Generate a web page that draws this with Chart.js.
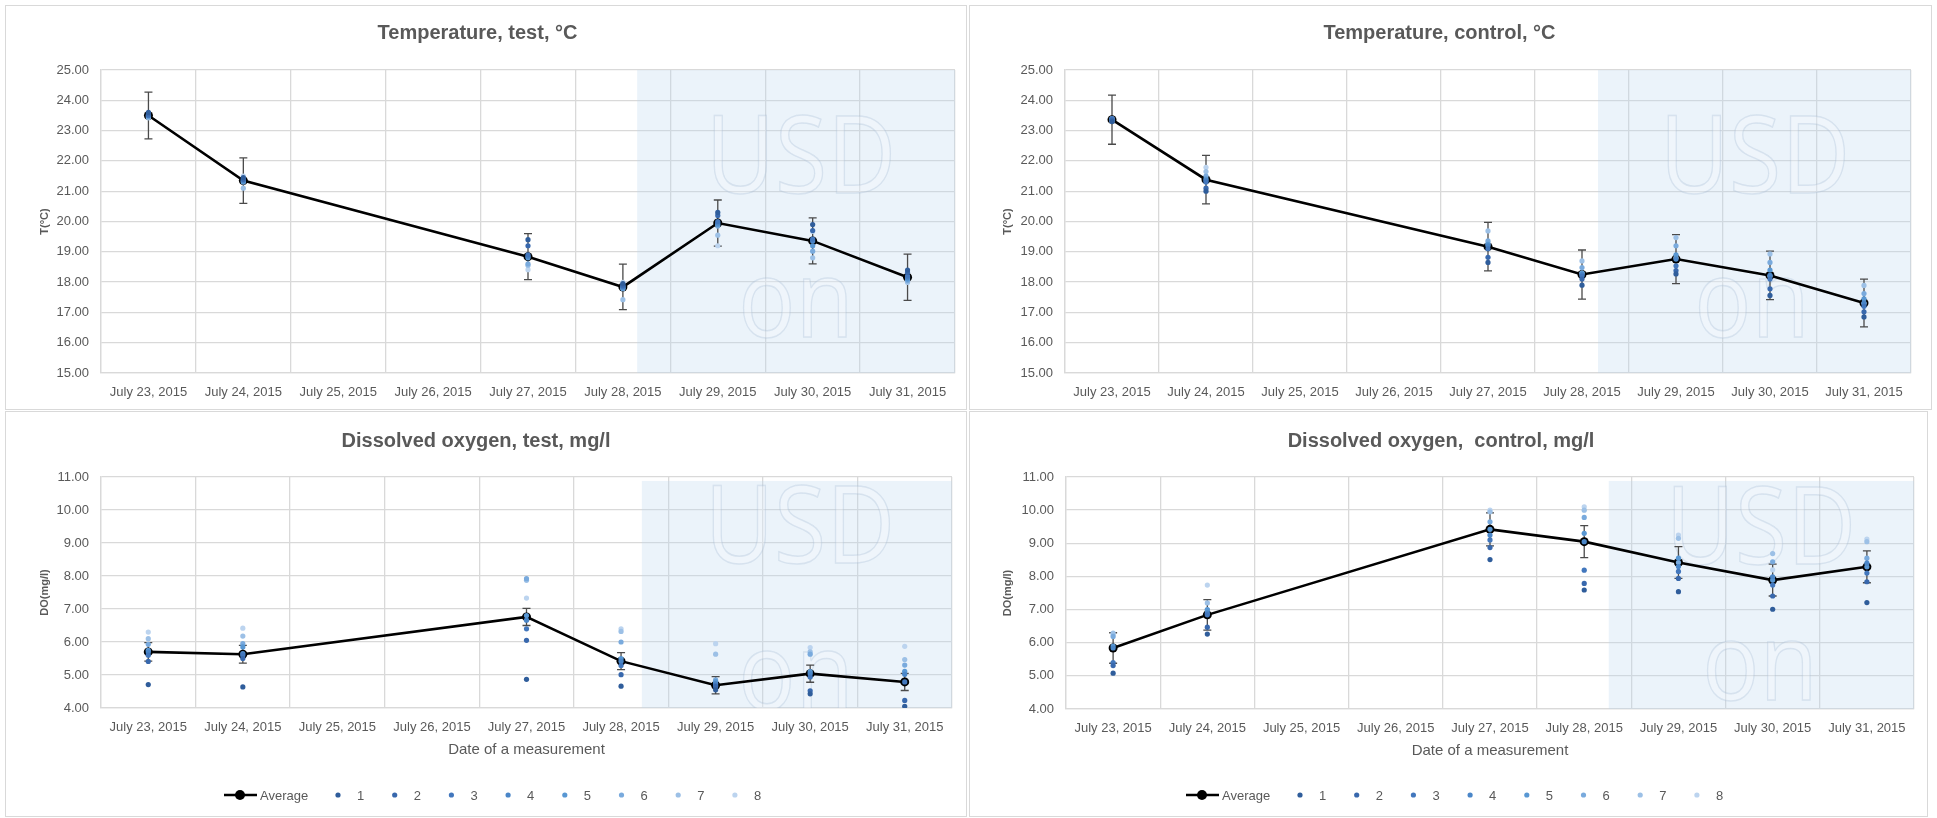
<!DOCTYPE html>
<html>
<head>
<meta charset="utf-8">
<script src="https://cdn.jsdelivr.net/npm/chart.js@4.4.1/dist/chart.umd.min.js"></script>
<style>
    body { margin: 0; background: #fff; }
    #page { position: relative; width: 1937px; height: 818px; overflow: hidden; background: #fff; }
    canvas { position: absolute; }
</style>
</head>
<body>
<div id="page">
    <canvas id="tempTest" width="968" height="410" style="left:0px;top:0px;width:968px;height:410px"></canvas>
    <canvas id="tempControl" width="969" height="410" style="left:968px;top:0px;width:969px;height:410px"></canvas>
    <canvas id="doTest" width="968" height="408" style="left:0px;top:410px;width:968px;height:408px"></canvas>
    <canvas id="doControl" width="969" height="408" style="left:968px;top:410px;width:969px;height:408px"></canvas>
</div>
<script>
    /************** DATA **************/
    let dates = ['July 23, 2015', 'July 24, 2015', 'July 25, 2015', 'July 26, 2015', 'July 27, 2015',
                 'July 28, 2015', 'July 29, 2015', 'July 30, 2015', 'July 31, 2015']

// TEMPERATURE, TEST
    let tempTestAvg = [23.50, 21.35, null, null, 18.84, 17.84, 19.95, 19.36, 18.16]
    let tempTestErr = [0.77, 0.75, null, null, 0.76, 0.75, 0.76, 0.76, 0.76]
    let tempTestPoints = [
        [23.60, 21.45, null, null, 19.40, 17.95, 20.30, 19.90, 18.40],
        [23.55, 21.40, null, null, 19.20, 17.90, 20.20, 19.70, 18.32],
        [23.50, 21.38, null, null, 18.90, 17.86, 20.00, 19.42, 18.20],
        [23.52, 21.35, null, null, 18.85, 17.84, 19.95, 19.36, 18.15],
        [23.48, 21.32, null, null, 18.80, 17.80, 19.90, 19.20, 18.10],
        [23.45, 21.30, null, null, 18.60, 17.78, 19.85, 19.02, 18.05],
        [23.42, 21.10, null, null, 18.55, 17.42, 19.55, 18.80, 18.00],
        [23.48, 21.50, null, null, 18.41, 17.99, 19.20, 19.67, 17.99]
    ]

// TEMPERATURE, CONTROL
    let tempControlAvg = [23.36, 21.38, null, null, 19.17, 18.25, 18.76, 18.22, 17.31]
    let tempControlErr = [0.81, 0.80, null, null, 0.80, 0.81, 0.81, 0.80, 0.79]
    let tempControlPoints = [
        [23.30, 21.00, null, null, 18.65, 17.90, 18.27, 17.56, 16.85],
        [23.35, 21.10, null, null, 18.82, 18.10, 18.38, 17.78, 17.02],
        [23.40, 21.30, null, null, 19.10, 18.20, 18.54, 18.10, 17.20],
        [23.38, 21.35, null, null, 19.20, 18.25, 18.76, 18.22, 17.31],
        [23.36, 21.40, null, null, 19.25, 18.30, 18.90, 18.40, 17.45],
        [23.34, 21.50, null, null, 19.36, 18.48, 19.20, 18.65, 17.62],
        [23.40, 21.65, null, null, 19.69, 18.70, 19.47, 18.93, 17.89],
        [23.30, 21.79, null, null, 19.30, 18.30, 18.80, 18.20, 17.30]
    ]

// DISSOLVED OXYGEN, TEST
    let doTestAvg = [5.70, 5.63, null, null, 6.76, 5.42, 4.69, 5.04, 4.79]
    let doTestErr = [0.28, 0.27, null, null, 0.26, 0.26, 0.26, 0.26, 0.26]
    let doTestPoints = [
        [4.71, 4.64, null, null, 4.87, 4.66, 4.55, 4.43, 4.05],
        [5.41, 5.50, null, null, 6.05, 5.01, 4.65, 4.52, 4.23],
        [5.60, 5.60, null, null, 6.40, 5.29, 4.69, 4.94, 4.79],
        [5.70, 5.65, null, null, 6.66, 5.42, 4.74, 5.04, 5.02],
        [5.75, 5.85, null, null, 6.80, 5.50, 4.80, 5.10, 5.11],
        [5.93, 5.95, null, null, 7.92, 6.00, 4.85, 5.63, 5.30],
        [6.10, 6.18, null, null, 7.87, 6.32, 5.63, 5.70, 5.47],
        [6.30, 6.42, null, null, 7.33, 6.40, 5.95, 5.83, 5.87]
    ]

// DISSOLVED OXYGEN, CONTROL
    let doControlAvg = [5.84, 6.84, null, null, 9.42, 9.05, 8.42, 7.89, 8.29]
    let doControlErr = [0.46, 0.46, null, null, 0.50, 0.48, 0.48, 0.48, 0.48]
    let doControlPoints = [
        [5.08, 6.26, null, null, 8.51, 7.59, 7.54, 7.01, 7.21],
        [5.31, 6.47, null, null, 8.87, 7.79, 7.94, 7.41, 7.84],
        [5.40, 6.84, null, null, 9.10, 8.19, 8.15, 7.74, 8.10],
        [5.84, 6.89, null, null, 9.25, 9.05, 8.30, 7.99, 8.40],
        [5.90, 6.99, null, null, 9.42, 9.30, 8.55, 7.89, 8.29],
        [6.19, 7.00, null, null, 9.65, 9.78, 8.42, 8.44, 8.55],
        [6.29, 7.20, null, null, 9.95, 10.00, 9.15, 8.69, 9.05],
        [6.25, 7.74, null, null, 10.00, 10.10, 9.25, 8.20, 9.13]
    ]

    let seriesColors = ['#2f5d9b', '#3868ad', '#4277bd', '#4a86c8', '#5897d3', '#79aadd', '#9cc0e6', '#bcd4ef']


    /************** STYLE **************/
    let fontName = '"Liberation Sans", Arial, sans-serif'
    let textColor = '#595959'
    let gridColor = '#d9d9d9'

    // shade, watermark, error bars, frame and legend
    let panelPlugin = {
        id: 'panel',
        beforeDatasetsDraw(chart, args, opts) {
            let ctx = chart.ctx
            let area = chart.chartArea
            let xs = chart.scales.x
            let ys = chart.scales.y
            let left = xs.getPixelForValue(opts.shadeFrom)
            let top = ys.getPixelForValue(opts.shadeTop)

            ctx.save()
            ctx.fillStyle = 'rgba(190,215,240,0.3)'
            ctx.fillRect(left, top, area.right - left, area.bottom - top)

            ctx.beginPath()
            ctx.rect(left, top, area.right - left, area.bottom - top)
            ctx.clip()
            ctx.font = '108px "Open Sans", "Noto Sans", sans-serif'
            ctx.textAlign = 'center'
            ctx.textBaseline = 'alphabetic'
            ctx.lineWidth = 1.5
            ctx.strokeStyle = 'rgba(165,186,212,0.32)'
            ctx.fillStyle = 'rgba(255,255,255,0.22)'
            opts.marks.forEach(m => {
                ctx.save()
                ctx.translate(m.x, m.base)
                ctx.scale(0.88, 1)
                ctx.fillText(m.text, 0, 0)
                ctx.strokeText(m.text, 0, 0)
                ctx.restore()
            })
            ctx.restore()

            // error bars of the average
            let meta = chart.getDatasetMeta(0)
            let avg = chart.data.datasets[0].data
            ctx.save()
            ctx.strokeStyle = '#4a4a4a'
            ctx.lineWidth = 1.3
            opts.errors.forEach((e, i) => {
                if (e === null || avg[i] === null) return
                let px = meta.data[i].x
                let yTop = ys.getPixelForValue(avg[i] + e)
                let yBot = ys.getPixelForValue(avg[i] - e)
                ctx.beginPath()
                ctx.moveTo(px, yTop); ctx.lineTo(px, yBot)
                ctx.moveTo(px - 4, yTop); ctx.lineTo(px + 4, yTop)
                ctx.moveTo(px - 4, yBot); ctx.lineTo(px + 4, yBot)
                ctx.stroke()
            })
            ctx.restore()
        },
        afterDraw(chart, args, opts) {
            let ctx = chart.ctx
            ctx.save()
            ctx.strokeStyle = gridColor
            ctx.lineWidth = 1
            let f = opts.frame
            ctx.strokeRect(f[0] + 0.5, f[1] + 0.5, f[2] - f[0], f[3] - f[1])

            if (opts.legend) {
                let sets = chart.data.datasets
                let lx = opts.legend.x
                let ly = opts.legend.y
                ctx.font = '13px ' + fontName
                ctx.textBaseline = 'middle'
                ctx.textAlign = 'left'
                ctx.strokeStyle = '#000'
                ctx.lineWidth = 2.6
                ctx.beginPath(); ctx.moveTo(lx, ly); ctx.lineTo(lx + 33, ly); ctx.stroke()
                ctx.fillStyle = '#000'
                ctx.beginPath(); ctx.arc(lx + 16, ly, 5, 0, 2 * Math.PI); ctx.fill()
                ctx.fillStyle = textColor
                ctx.fillText(sets[0].label, lx + 36, ly + 1)
                for (let i = 1; i < sets.length; i++) {
                    let dx = lx + 114 + (i - 1) * 56.7
                    ctx.fillStyle = sets[i].pointBackgroundColor
                    ctx.beginPath(); ctx.arc(dx, ly, 2.6, 0, 2 * Math.PI); ctx.fill()
                    ctx.fillStyle = textColor
                    ctx.fillText(sets[i].label, dx + 19, ly + 1)
                }
            }
            ctx.restore()
        }
    }


    /************** CREATING CHARTS **************/
    function makeDatasets(avg, points) {
        let sets = [{
            label: 'Average',
            data: avg,
            borderColor: '#000',
            backgroundColor: '#000',
            borderWidth: 2.6,
            pointRadius: 4.5,
            pointBackgroundColor: '#000',
            pointBorderWidth: 0,
            spanGaps: true,
            order: 1
        }]
        points.forEach((vals, i) => {
            sets.push({
                label: String(i + 1),
                data: vals,
                showLine: false,
                pointRadius: 2.6,
                pointBorderWidth: 0,
                pointBackgroundColor: seriesColors[i],
                backgroundColor: seriesColors[i],
                borderColor: seriesColors[i],
                order: 0
            })
        })
        return sets
    }

    function makeChart(id, cfg) {
        return new Chart(document.getElementById(id), {
            type: 'line',
            data: { labels: dates, datasets: makeDatasets(cfg.avg, cfg.points) },
            plugins: [panelPlugin],
            options: {
                responsive: false,
                animation: false,
                layout: { padding: { left: 0, right: cfg.padRight, top: 0, bottom: cfg.padBottom } },
                scales: {
                    x: {
                        offset: true,
                        grid: { offset: true, color: gridColor, lineWidth: 1.3, drawTicks: false },
                        border: { color: gridColor, width: 1.3 },
                        ticks: { padding: 12, color: textColor, font: { family: fontName, size: 13 }, maxRotation: 0, autoSkip: false },
                        title: {
                            display: !!cfg.xTitle,
                            text: cfg.xTitle || '',
                            color: textColor,
                            font: { family: fontName, size: 15 },
                            padding: 0
                        },
                        afterFit: s => { s.height = cfg.xHeight }
                    },
                    y: {
                        min: cfg.min,
                        max: cfg.max,
                        grid: { color: gridColor, lineWidth: 1.3, drawTicks: false },
                        border: { color: gridColor, width: 1.3 },
                        ticks: { stepSize: 1, padding: 12, color: textColor, font: { family: fontName, size: 13 }, callback: v => v.toFixed(2) },
                        title: {
                            display: true,
                            text: cfg.yTitle,
                            color: textColor,
                            font: { family: fontName, size: 11, weight: 'bold' },
                            padding: { top: cfg.yTitleX - 6.6, bottom: 0 }
                        },
                        afterFit: s => { s.width = cfg.yWidth }
                    }
                },
                plugins: {
                    legend: { display: false },
                    tooltip: { enabled: false },
                    title: {
                        display: true,
                        text: cfg.title,
                        color: textColor,
                        font: { family: fontName, size: 20, weight: 'bold' },
                        padding: { top: cfg.titleTop, bottom: cfg.titleBottom }
                    },
                    panel: {
                        shadeFrom: cfg.shadeFrom,
                        shadeTop: cfg.shadeTop,
                        errors: cfg.err,
                        marks: cfg.marks,
                        frame: cfg.frame,
                        legend: cfg.legend
                    }
                }
            }
        })
    }

// CHART 1
    makeChart('tempTest', {
        title: 'Temperature, test, °C', yTitle: 'T(°C)',
        avg: tempTestAvg, err: tempTestErr, points: tempTestPoints,
        min: 15, max: 25, yWidth: 101, yTitleX: 45, xHeight: 37,
        padRight: 13, padBottom: 0, titleTop: 21, titleBottom: 25,
        shadeFrom: 5.15, shadeTop: 25,
        marks: [{ text: 'USD', x: 801, base: 193 }, { text: 'on', x: 796, base: 337 }],
        frame: [5, 5, 966, 409]
    })

// CHART 2
    makeChart('tempControl', {
        title: 'Temperature, control, °C', yTitle: 'T(°C)',
        avg: tempControlAvg, err: tempControlErr, points: tempControlPoints,
        min: 15, max: 25, yWidth: 97, yTitleX: 40, xHeight: 37,
        padRight: 26, padBottom: 0, titleTop: 21, titleBottom: 25,
        shadeFrom: 5.17, shadeTop: 25,
        marks: [{ text: 'USD', x: 787, base: 193 }, { text: 'on', x: 784, base: 337 }],
        frame: [1, 5, 963, 409]
    })

// CHART 3
    makeChart('doTest', {
        title: 'Dissolved oxygen, test, mg/l', yTitle: 'DO(mg/l)', xTitle: 'Date of a measurement',
        avg: doTestAvg, err: doTestErr, points: doTestPoints,
        min: 4, max: 11, yWidth: 101, yTitleX: 45, xHeight: 51,
        padRight: 16, padBottom: 59, titleTop: 19, titleBottom: 24,
        shadeFrom: 5.22, shadeTop: 10.88,
        marks: [{ text: 'USD', x: 800, base: 153 }, { text: 'on', x: 796, base: 300 }],
        frame: [5, 1, 966, 406],
        legend: { x: 224, y: 385 }
    })

// CHART 4
    makeChart('doControl', {
        title: 'Dissolved oxygen,  control, mg/l', yTitle: 'DO(mg/l)', xTitle: 'Date of a measurement',
        avg: doControlAvg, err: doControlErr, points: doControlPoints,
        min: 4, max: 11, yWidth: 98, yTitleX: 40, xHeight: 51,
        padRight: 23, padBottom: 58, titleTop: 19, titleBottom: 24,
        shadeFrom: 5.26, shadeTop: 10.88,
        marks: [{ text: 'USD', x: 793, base: 154 }, { text: 'on', x: 792, base: 290 }],
        frame: [1, 1, 959, 406],
        legend: { x: 218, y: 385 }
    })
</script>
</body>
</html>
